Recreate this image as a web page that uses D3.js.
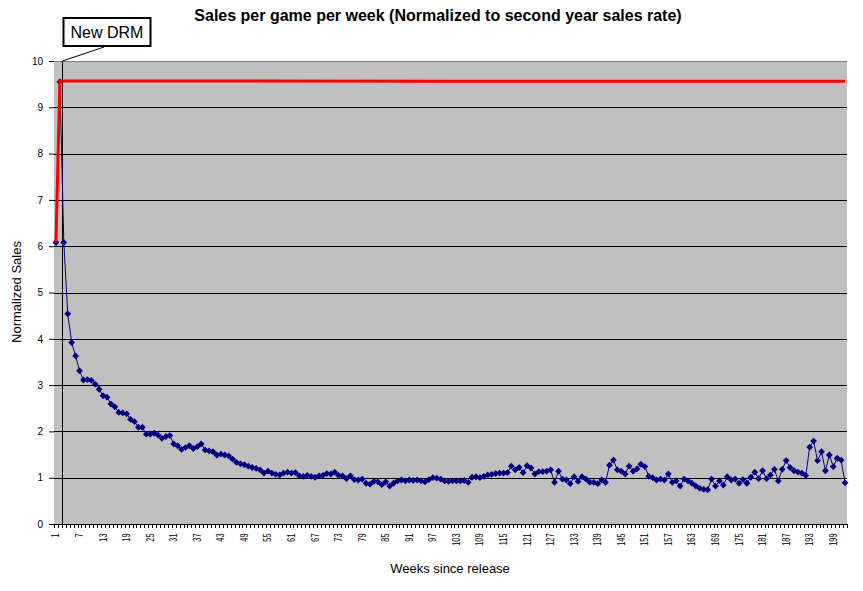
<!DOCTYPE html>
<html><head><meta charset="utf-8">
<script src="https://cdn.jsdelivr.net/npm/d3@7"></script>
<style>
html,body{margin:0;padding:0;background:#fff;}
svg{display:block;font-family:"Liberation Sans",Arial,sans-serif;}
</style></head>
<body>
<script>
// ---- data ----
const weeks = d3.range(1, 203); // categories 1..202
const tickLabels = [1,7,13,19,25,31,37,43,49,55,61,67,73,79,85,91,97,103,109,115,121,127,133,139,145,151,157,163,169,175,181,187,193,199];
const yTicks = [0,1,2,3,4,5,6,7,8,9,10];
const sales = [
 6.08,9.55,6.08,4.54,3.92,3.63,3.31,3.11,3.12,3.10,
 3.02,2.91,2.77,2.74,2.59,2.53,2.41,2.40,2.38,2.26,
 2.21,2.09,2.09,1.94,1.94,1.96,1.92,1.85,1.89,1.91,
 1.73,1.69,1.61,1.65,1.69,1.63,1.67,1.73,1.60,1.58,
 1.56,1.49,1.51,1.49,1.47,1.40,1.33,1.30,1.28,1.25,
 1.22,1.20,1.17,1.10,1.14,1.10,1.07,1.06,1.10,1.12,
 1.10,1.11,1.04,1.03,1.05,1.03,1.01,1.04,1.05,1.09,
 1.08,1.12,1.05,1.04,0.98,1.04,0.96,0.95,0.97,0.88,
 0.86,0.92,0.91,0.85,0.91,0.82,0.88,0.93,0.95,0.93,
 0.95,0.94,0.95,0.93,0.91,0.96,1.00,0.99,0.97,0.93,
 0.92,0.93,0.93,0.93,0.94,0.90,1.01,1.02,1.00,1.03,
 1.06,1.07,1.09,1.10,1.10,1.11,1.25,1.17,1.22,1.11,
 1.26,1.21,1.08,1.13,1.13,1.14,1.17,0.90,1.14,0.97,
 0.95,0.87,1.02,0.92,1.02,0.97,0.90,0.90,0.87,0.95,
 0.90,1.27,1.38,1.17,1.14,1.08,1.25,1.14,1.19,1.29,
 1.24,1.03,1.00,0.95,0.97,0.95,1.08,0.90,0.93,0.82,
 0.97,0.93,0.88,0.82,0.77,0.75,0.74,0.97,0.82,0.93,
 0.84,1.02,0.95,0.97,0.88,0.96,0.88,1.01,1.12,0.98,
 1.15,0.98,1.06,1.18,0.93,1.18,1.37,1.22,1.15,1.12,
 1.10,1.05,1.66,1.79,1.37,1.56,1.15,1.49,1.24,1.42,
 1.38,0.89
];
// red reference series as [week, value] points
const rateLine = [[1,6.08],[2,9.57],[100,9.565],[202,9.56]];
const title = "Sales per game per week (Normalized to second year sales rate)";
const drmWeek = 3; // DRM change marked at boundary before week 3

// ---- layout ----
const W = 863, H = 591;
const L = 54, R = 847, T = 61, B = 524;

const svg = d3.select("body").append("svg").attr("width", W).attr("height", H);

const x = d3.scaleBand().domain(weeks).range([L, R]).paddingInner(0).paddingOuter(0);
const xc = w => x(w) + x.bandwidth() / 2;
const y = d3.scaleLinear().domain([0, 10]).range([B, T]);

// plot background
svg.append("rect").attr("x", L).attr("y", T).attr("width", R - L).attr("height", B - T).attr("fill", "#C0C0C0");

// gridlines
svg.append("g").selectAll("line").data(yTicks.filter(d => d > 0)).join("line")
  .attr("x1", L).attr("x2", R)
  .attr("y1", d => Math.round(y(d)) + 0.5).attr("y2", d => Math.round(y(d)) + 0.5)
  .attr("stroke", d => d === 10 ? "#808080" : "#000").attr("stroke-width", 1);

// y axis
const yAxis = svg.append("g").attr("transform", `translate(${L},0)`)
  .call(d3.axisLeft(y).tickValues(yTicks).tickSize(5).tickPadding(6).tickFormat(d3.format("d")));
yAxis.select(".domain").remove();
yAxis.selectAll("text").attr("font-size", 10).attr("fill", "#000").attr("font-family", '"Liberation Sans",Arial,sans-serif');
yAxis.selectAll("line").attr("stroke", "#000");

// x axis
svg.append("line").attr("x1", L).attr("x2", R).attr("y1", B + 0.5).attr("y2", B + 0.5).attr("stroke", "#000");
const bounds = weeks.map(w => x(w)).concat([R]);
svg.append("g").selectAll("line").data(bounds).join("line")
  .attr("x1", d => Math.round(d) + 0.5).attr("x2", d => Math.round(d) + 0.5)
  .attr("y1", B).attr("y2", B + 4).attr("stroke", "#000");
const sx = 0.74;
const xAxis = svg.append("g").attr("transform", `translate(0,${B})`)
  .call(d3.axisBottom(x).tickValues(tickLabels).tickSize(0).tickPadding(0));
xAxis.select(".domain").remove();
xAxis.selectAll("text")
  .attr("transform", `rotate(-90) scale(${sx},1)`).attr("text-anchor", "end")
  .attr("x", -9.5 / sx).attr("y", 0).attr("dy", "0.35em")
  .attr("font-size", 10).attr("fill", "#000").attr("font-family", '"Liberation Sans",Arial,sans-serif');

// DRM vertical marker
const xd = Math.round(x(drmWeek)) + 0.5;
svg.append("line").attr("x1", xd).attr("x2", xd).attr("y1", T).attr("y2", B + 4).attr("stroke", "#000");

// blue series
const line = d3.line().x((d, i) => xc(weeks[i])).y(d => y(d));
svg.append("path").datum(sales).attr("d", line).attr("fill", "none").attr("stroke", "#000080").attr("stroke-width", 1);
const dz = 3.4;
svg.append("g").selectAll("path").data(sales).join("path")
  .attr("transform", (d, i) => `translate(${xc(weeks[i])},${y(d)})`)
  .attr("d", `M0,${-dz}L${dz},0L0,${dz}L${-dz},0Z`).attr("fill", "#000080");

// red series
const rline = d3.line().x(d => xc(d[0])).y(d => y(d[1]));
svg.append("path").datum(rateLine).attr("d", rline).attr("fill", "none").attr("stroke", "#FF0000").attr("stroke-width", 3);

// callout
svg.append("line").attr("x1", xd).attr("y1", T).attr("x2", 104).attr("y2", 47).attr("stroke", "#000").attr("stroke-width", 1);
svg.append("rect").attr("x", 63.5).attr("y", 18).attr("width", 87).attr("height", 28).attr("fill", "#fff").attr("stroke", "#000").attr("stroke-width", 2);
svg.append("text").attr("x", 107).attr("y", 38).attr("text-anchor", "middle").attr("font-size", 16).text("New DRM");

// titles
svg.append("text").attr("x", 438).attr("y", 21).attr("text-anchor", "middle").attr("font-size", 16).attr("font-weight", "bold").text(title);
svg.append("text").attr("x", 450).attr("y", 573).attr("text-anchor", "middle").attr("font-size", 13).text("Weeks since release");
svg.append("text").attr("transform", "translate(21,292) rotate(-90)").attr("text-anchor", "middle").attr("font-size", 13).text("Normalized Sales");
</script>
</body></html>
